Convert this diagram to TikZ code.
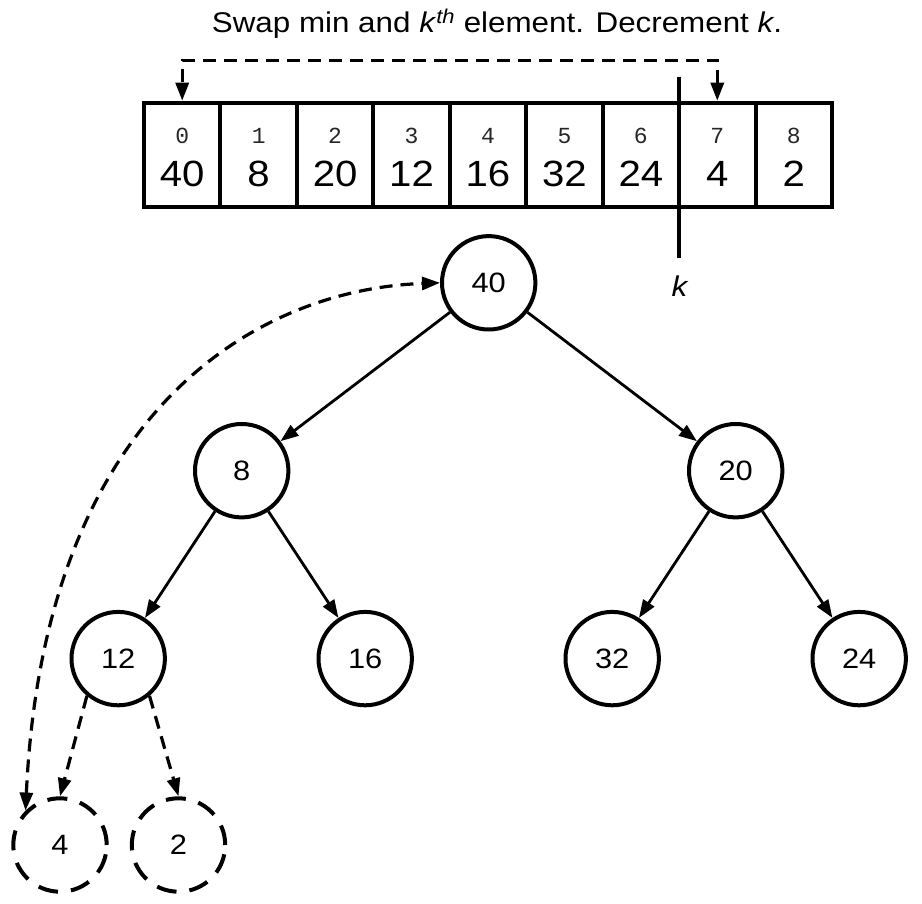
\documentclass[tikz,border=0pt]{standalone}
\usepackage{fontspec}
\setmainfont{Liberation Sans}[FakeStretch=1.1]
\newfontfamily\idxfont{Liberation Mono}
\usetikzlibrary{arrows.meta}
\begin{document}
\begin{tikzpicture}[x=1pt,y=-1pt,
  >={Triangle[length=18pt,width=13pt]},
  cell/.style={draw, line width=4pt, rectangle, minimum width=76.44pt, minimum height=104pt, inner sep=0pt},
  idx/.style={anchor=base, inner sep=0pt, text=black!85, font=\idxfont\fontsize{23pt}{25pt}\selectfont},
  val/.style={anchor=base, inner sep=0pt, font=\fontsize{36.5pt}{40pt}\selectfont},
  hnode/.style={draw, circle, line width=4pt, minimum size=93.4pt, inner sep=0pt, font=\fontsize{28pt}{30pt}\selectfont},
  ghost/.style={hnode, dash pattern=on 20pt off 13pt},
  edge/.style={line width=2.8pt, ->},
  swap/.style={line width=3.2pt, dash pattern=on 13pt off 8pt},
  kline/.style={line width=4pt},
  label/.style={inner sep=0pt, anchor=base, font=\fontsize{28.5pt}{30pt}\selectfont}
]
\useasboundingbox (0,0) rectangle (922,904);

% title
\node[label] (title) at (497,32.6) {Swap min and \textit{k}\textsuperscript{\textit{th}} element. Decrement \textit{k}.};

% array
\foreach \v [count=\i from 0] in {40,8,20,12,16,32,24,4,2} {
  \node[cell] (c\i) at ({144+76.44*(\i+0.5)},154.7) {};
  \node[idx] (i\i) at ({144+76.44*(\i+0.5)},144) {\i};
  \node[val] (v\i) at ({144+76.44*(\i+0.5)},187) {\v};
}

% k marker
\coordinate (ktop) at (679.1,76.7);
\coordinate (kbot) at (679.1,258);
\draw[kline] (ktop) -- (kbot);
\node[label] (klab) at (680,296.5) {\textit{k}};

% swap arrow on the array
\draw[swap, <->] (c7.north) -- ++(0,-40.5) -| (c0.north);

% heap tree
\node[hnode] (n40) at (488.7,282.8) {40};
\node[hnode] (n8)  at (241.7,470.7) {8};
\node[hnode] (n20) at (735.7,470.7) {20};
\node[hnode] (n12) at (118.2,658.6) {12};
\node[hnode] (n16) at (365.2,658.6) {16};
\node[hnode] (n32) at (612.2,658.6) {32};
\node[hnode] (n24) at (859.2,658.6) {24};
\node[ghost] (n4)  at (60,845) {4};
\node[ghost] (n2)  at (178.5,845) {2};

\draw[edge] (n40) -- (n8);
\draw[edge] (n40) -- (n20);
\draw[edge] (n8) -- (n12);
\draw[edge] (n8) -- (n16);
\draw[edge] (n20) -- (n32);
\draw[edge] (n20) -- (n24);

\draw[swap, ->] (n12.230) -- (n4.north);
\draw[swap, ->] (n12.310) -- (n2.north);

\draw[swap, <->] (n4.135) .. controls +(18,-392) and +(-190,7) .. (n40.west);
\end{tikzpicture}
\end{document}
